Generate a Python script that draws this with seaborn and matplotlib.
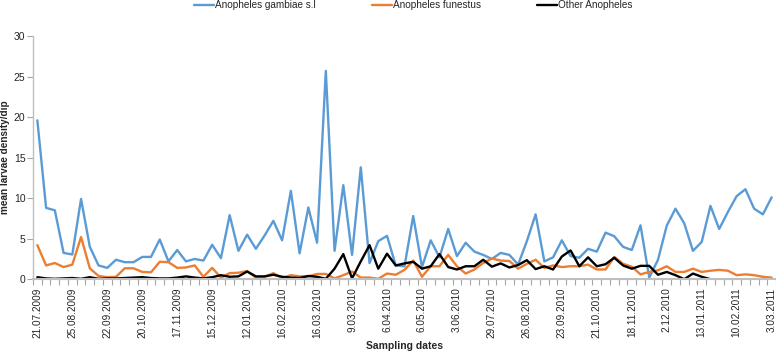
import numpy as np
import pandas as pd
import seaborn as sns
import matplotlib.pyplot as plt
from matplotlib.ticker import FixedLocator

# tick labels shown every 4th sampling date
date_labels = ["21.07.2009", "25.08.2009", "22.09.2009", "20.10.2009", "17.11.2009",
               "15.12.2009", "12.01.2010", "16.02.2010", "16.03.2010", "9.03.2010",
               "6.04.2010", "6.05.2010", "3.06.2010", "29.07.2010", "26.08.2010",
               "23.09.2010", "21.10.2010", "18.11.2010", "2.12.2010", "13.01.2011",
               "10.02.2011", "3.03.2011"]

gambiae = [19.6, 8.8, 8.5, 3.25, 3.05, 9.9, 4.0, 1.7, 1.4, 2.4,
           2.1, 2.1, 2.75, 2.75, 4.9, 2.2, 3.6, 2.2, 2.5, 2.3,
           4.25, 2.6, 7.9, 3.5, 5.5, 3.75, 5.4, 7.2, 4.8, 10.9,
           3.2, 8.85, 4.5, 25.7, 3.5, 11.6, 3.0, 13.8, 2.0, 4.7,
           5.35, 1.7, 1.6, 7.8, 1.5, 4.8, 2.7, 6.2, 2.85, 4.5,
           3.4, 3.0, 2.5, 3.25, 3.0, 1.8, 4.7, 8.0, 2.2, 2.7,
           4.8, 2.85, 2.65, 3.75, 3.4, 5.75, 5.3, 4.0, 3.6, 6.65,
           0.2, 2.4, 6.6, 8.7, 6.9, 3.5, 4.6, 9.05, 6.2, 8.3,
           10.25, 11.1, 8.7, 8.0, 10.1]

funestus = [4.2, 1.7, 2.0, 1.5, 1.8, 5.2, 1.35, 0.4, 0.25, 0.3,
            1.35, 1.35, 0.9, 0.85, 2.15, 2.1, 1.4, 1.45, 1.7, 0.3,
            1.4, 0.2, 0.75, 0.8, 1.0, 0.2, 0.3, 0.75, 0.15, 0.5,
            0.35, 0.35, 0.65, 0.65, 0.1, 0.5, 0.95, 0.2, 0.2, 0.05,
            0.7, 0.55, 1.15, 2.3, 0.3, 1.6, 1.6, 3.0, 1.6, 0.7,
            1.2, 2.0, 2.55, 2.3, 2.25, 1.3, 1.9, 2.4, 1.4, 1.7,
            1.5, 1.6, 1.6, 1.8, 1.2, 1.2, 2.75, 1.9, 1.55, 0.6,
            0.9, 1.1, 1.6, 0.9, 0.9, 1.3, 0.9, 1.05, 1.15, 1.05,
            0.5, 0.6, 0.5, 0.3, 0.2]

other = [0.25, 0.1, 0.05, 0.1, 0.15, 0.05, 0.25, 0.05, 0.1, 0.1,
         0.15, 0.2, 0.25, 0.15, 0.1, 0.1, 0.2, 0.35, 0.2, 0.1,
         0.25, 0.5, 0.3, 0.35, 0.95, 0.35, 0.35, 0.55, 0.3, 0.2,
         0.15, 0.4, 0.3, 0.05, 1.3, 3.1, 0.1, 2.2, 4.2, 1.3,
         3.15, 1.7, 1.95, 2.15, 1.3, 1.6, 3.1, 1.5, 1.2, 1.6,
         1.6, 2.4, 1.55, 1.95, 1.45, 1.75, 2.35, 1.25, 1.6, 1.2,
         2.8, 3.55, 1.6, 2.7, 1.6, 1.85, 2.65, 1.7, 1.3, 1.65,
         1.65, 0.55, 0.9, 0.5, 0.0, 0.7, 0.3, 0.0,
         np.nan, np.nan, np.nan, np.nan, np.nan, np.nan, np.nan]

n = len(gambiae)
df = pd.DataFrame({"idx": np.arange(n), "gambiae": gambiae,
                   "funestus": funestus, "other": other})

sns.set_style("white")
plt.rcParams['font.family'] = ['Liberation Sans', 'DejaVu Sans']

fig = plt.figure(figsize=(7.76, 3.53), dpi=100)
ax = fig.add_axes([0.0425, 0.209, 0.9575, 0.689])

sns.lineplot(data=df, x="idx", y="gambiae", ax=ax, color="#5B9BD5", lw=1.7,
             label="Anopheles gambiae s.l")
sns.lineplot(data=df, x="idx", y="funestus", ax=ax, color="#ED7D31", lw=1.7,
             label="Anopheles funestus")
sns.lineplot(data=df.dropna(), x="idx", y="other", ax=ax, color="black", lw=1.7,
             label="Other Anopheles")

ax.set_xlim(-0.5, n - 0.5)
ax.set_ylim(0, 30)
ax.set_yticks(range(0, 31, 5))
ax.set_xticks(np.arange(0, n, 4))
ax.set_xticklabels(date_labels, rotation=90, fontsize=7.2)
ax.xaxis.set_minor_locator(FixedLocator(np.arange(-0.5, n, 1)))
ax.tick_params(axis='x', which='major', length=0, pad=6)
ax.tick_params(axis='x', which='minor', length=4, width=0.8, color='#a6a6a6',
               direction='out', bottom=True)
ax.tick_params(axis='y', length=4, width=0.8, color='#a6a6a6', direction='out',
               left=True, labelsize=7.5, pad=1.5)

for s in ['top', 'right']:
    ax.spines[s].set_visible(False)
ax.spines['left'].set_color('#bfbfbf')
ax.spines['left'].set_linewidth(1.0)
ax.spines['bottom'].set_color('#bfbfbf')
ax.spines['bottom'].set_linewidth(1.5)

ax.set_xlabel("")
ax.set_ylabel("")
fig.text(404 / 776, 1 - 346 / 353, "Sampling dates", fontsize=7.5, fontweight='bold',
         ha='center', va='center')
fig.text(5 / 776, 1 - 157 / 353, "mean larvae density/dip", fontsize=7.2,
         fontweight='bold', rotation=90, ha='center', va='center')

ax.legend_.remove()
h, l = ax.get_legend_handles_labels()
fig.legend(h, l, loc='upper center', bbox_to_anchor=(413 / 776, 1.025), ncol=3,
           frameon=False, fontsize=7.2, handlelength=2.0, handletextpad=0.1,
           columnspacing=5.6)

plt.savefig("out.png", dpi=100)
